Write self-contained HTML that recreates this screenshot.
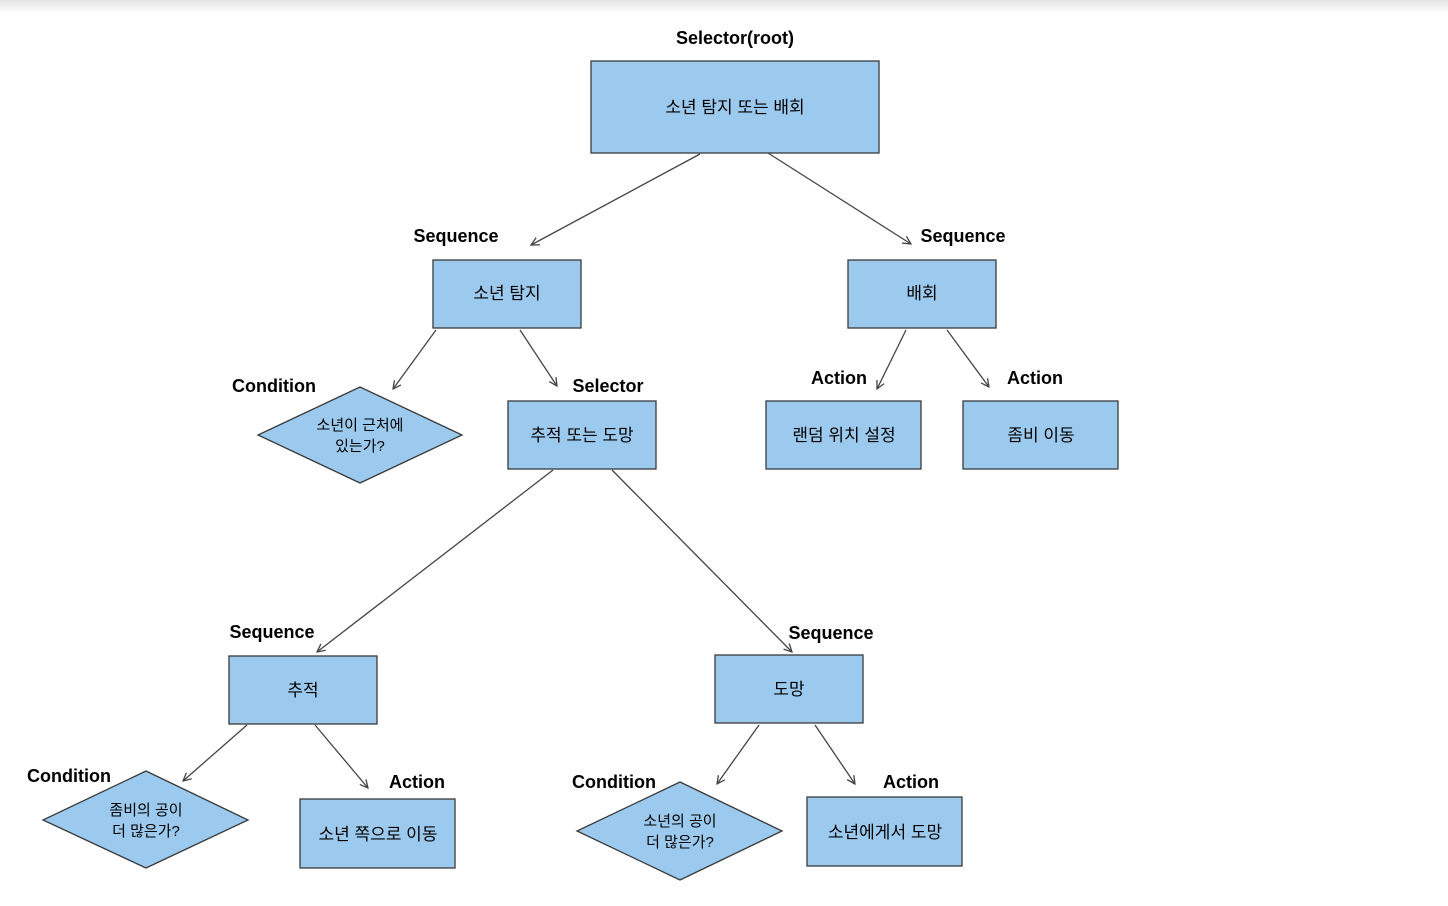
<!DOCTYPE html>
<html><head><meta charset="utf-8"><style>
body{margin:0;background:#fff;width:1448px;height:901px;overflow:hidden}
.t{font-family:"Liberation Sans","Noto Sans CJK KR",sans-serif}
</style></head><body>
<svg width="1448" height="901" xmlns="http://www.w3.org/2000/svg">
<defs>
<linearGradient id="g" x1="0" y1="0" x2="0" y2="1"><stop offset="0" stop-color="#e4e4e4"/><stop offset="1" stop-color="#fff"/></linearGradient>
<marker id="a" markerWidth="10" markerHeight="10" refX="9" refY="5" orient="auto" markerUnits="userSpaceOnUse"><path d="M1,1 L9,5 L1,9" fill="none" stroke="#444" stroke-width="1.3"/></marker>
</defs>
<rect x="0" y="0" width="1448" height="14" fill="url(#g)"/>
<g fill="#9ccaee" stroke="#3a3a3a" stroke-width="1.3">
<rect x="591" y="61" width="288" height="92"/>
<rect x="433" y="260" width="148" height="68"/>
<rect x="848" y="260" width="148" height="68"/>
<rect x="508" y="401" width="148" height="68"/>
<rect x="766" y="401" width="155" height="68"/>
<rect x="963" y="401" width="155" height="68"/>
<rect x="229" y="656" width="148" height="68"/>
<rect x="715" y="655" width="148" height="68"/>
<rect x="300" y="799" width="155" height="69"/>
<rect x="807" y="797" width="155" height="69"/>
<polygon points="360,387 462,435 360,483 258,435"/>
<polygon points="146,771 248,820 146,868 43,820"/>
<polygon points="680,782 782,831 680,880 577,831"/>
</g>
<g stroke="#444" stroke-width="1.3" marker-end="url(#a)">
<line x1="700" y1="154" x2="531" y2="245"/>
<line x1="768" y1="153" x2="911" y2="244"/>
<line x1="436" y1="330" x2="393" y2="389"/>
<line x1="520" y1="330" x2="557" y2="386"/>
<line x1="906" y1="330" x2="877" y2="389"/>
<line x1="947" y1="330" x2="989" y2="387"/>
<line x1="553" y1="470" x2="317" y2="652"/>
<line x1="612" y1="470" x2="792" y2="652"/>
<line x1="247" y1="725" x2="183" y2="781"/>
<line x1="315" y1="725" x2="368" y2="788"/>
<line x1="759" y1="725" x2="717" y2="784"/>
<line x1="815" y1="725" x2="855" y2="784"/>
</g>
<g class="t" font-size="18" font-weight="bold" fill="#000" text-anchor="middle">
<text x="735" y="44">Selector(root)</text>
<text x="456" y="242">Sequence</text>
<text x="963" y="242">Sequence</text>
<text x="274" y="392">Condition</text>
<text x="608" y="392">Selector</text>
<text x="839" y="384">Action</text>
<text x="1035" y="384">Action</text>
<text x="272" y="638">Sequence</text>
<text x="831" y="639">Sequence</text>
<text x="69" y="782">Condition</text>
<text x="417" y="788">Action</text>
<text x="614" y="788">Condition</text>
<text x="911" y="788">Action</text>
</g>
<g class="t" font-size="17" fill="#000" text-anchor="middle">
<text x="735" y="113">소년 탐지 또는 배회</text>
<text x="507" y="299">소년 탐지</text>
<text x="922" y="299">배회</text>
<text x="582" y="441">추적 또는 도망</text>
<text x="844" y="441">랜덤 위치 설정</text>
<text x="1041" y="441">좀비 이동</text>
<text x="303" y="696">추적</text>
<text x="789" y="695">도망</text>
<text x="378" y="840">소년 쪽으로 이동</text>
<text x="885" y="838">소년에게서 도망</text>
</g>
<g class="t" font-size="15" fill="#000" text-anchor="middle">
<text x="360" y="430">소년이 근처에</text>
<text x="360" y="451">있는가?</text>
<text x="146" y="815">좀비의 공이</text>
<text x="146" y="836">더 많은가?</text>
<text x="680" y="826">소년의 공이</text>
<text x="680" y="847">더 많은가?</text>
</g>
</svg>
</body></html>
